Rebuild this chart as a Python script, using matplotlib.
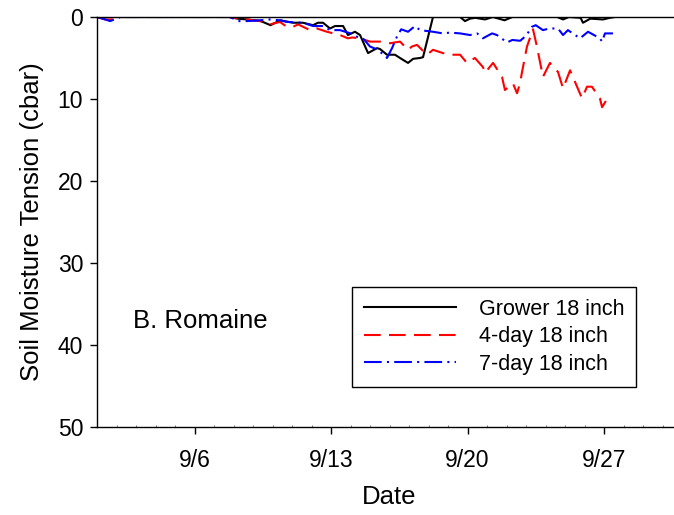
import datetime as dt
import matplotlib
matplotlib.use("Agg")
import matplotlib.pyplot as plt
import matplotlib.dates as mdates

plt.rcParams['font.family'] = ['Liberation Sans', 'DejaVu Sans']

# day of September (fractional) and soil moisture tension (cbar)
grower_day = [1.0, 7.8, 8.2, 8.7, 9.4, 9.9, 10.4, 11.05, 11.56, 12.08, 12.33, 12.59,
              12.95, 13.21, 13.62, 13.87, 14.23, 14.49, 14.9, 15.36, 15.51, 15.87,
              16.28, 16.54, 16.95, 17.21, 17.56, 17.72, 18.23, 19.62, 19.87, 20.13,
              20.4, 20.9, 21.3, 21.9, 22.3, 24.6, 24.9, 25.2, 25.8, 25.92, 26.3,
              26.95, 27.3, 27.56]
grower_cbar = [0, 0, 0.2, 0.3, 0.5, 1.0, 0.4, 0.7, 0.7, 1.0, 0.7, 0.7,
               1.4, 1.1, 1.1, 2.2, 1.8, 2.2, 4.4, 3.8, 3.9, 4.6,
               4.6, 5.0, 5.6, 5.1, 5.0, 4.9, 0, 0, 0.5, 0.2,
               0.1, 0.3, 0, 0.4, 0, 0, 0.3, 0, 0.1, 0.7, 0.2,
               0.3, 0.1, 0]

day4_day = [1.0, 1.4, 1.9, 2.2, 7.8, 8.3, 8.7, 9.36, 9.87, 10.38, 10.74, 11.05,
            11.31, 11.92, 12.28, 12.79, 13.46, 13.87, 14.08, 14.49, 15.0, 15.51,
            16.03, 16.54, 16.95, 17.15, 17.41, 17.92, 18.23, 18.74, 19.1, 19.62,
            19.97, 20.38, 20.79, 20.9, 21.31, 21.77, 21.92, 22.33, 22.54, 22.69,
            22.79, 23.05, 23.36, 23.56, 23.87, 24.23, 24.64, 24.9, 25.26, 25.51,
            25.87, 26.13, 26.38, 26.79, 26.9, 27.21]
day4_cbar = [0, 0.3, 0.3, 0, 0, 0.2, 0.3, 0.5, 0.9, 0.6, 1.2, 1.2,
             0.9, 1.6, 1.4, 1.8, 2.2, 2.6, 2.5, 2.6, 3.0, 3.0,
             3.2, 3.0, 4.0, 3.6, 3.4, 4.6, 4.0, 4.4, 4.6, 4.6,
             5.6, 5.0, 6.1, 6.8, 5.6, 7.3, 8.9, 8.1, 9.3, 8.1,
             6.8, 3.6, 1.5, 3.6, 7.3, 5.6, 6.7, 8.7, 6.5, 7.9,
             9.9, 8.5, 8.5, 9.9, 11.0, 9.8]

day7_day = [1.0, 1.3, 1.67, 2.0, 2.2, 7.8, 8.0, 8.23, 8.69, 9.36, 9.87, 10.38,
            10.74, 11.56, 12.08, 12.59, 12.95, 13.46, 14.0, 14.33, 14.64, 15.0,
            15.41, 15.87, 16.13, 16.38, 16.6, 16.95, 17.31, 17.56, 18.23, 18.74,
            19.1, 19.62, 20.13, 20.49, 20.79, 21.26, 21.51, 22.03, 22.3, 22.7,
            23.0, 23.3, 23.5, 23.87, 24.2, 24.64, 24.9, 25.15, 25.77, 26.18,
            26.79, 26.9, 27.05, 27.46]
day7_cbar = [0, 0.2, 0.5, 0.2, 0, 0, 0.2, 0.5, 0.5, 0.4, 0.3, 0.4,
             0.6, 0.7, 1.1, 1.1, 1.6, 1.6, 2.0, 2.4, 2.6, 3.6,
             4.0, 5.0, 3.8, 2.4, 1.5, 1.8, 1.1, 1.6, 1.8, 2.0,
             1.9, 2.0, 2.2, 2.0, 2.6, 2.0, 2.2, 3.1, 2.8, 2.9,
             2.3, 1.2, 1.0, 1.6, 1.4, 1.4, 2.2, 1.6, 2.6, 1.8,
             2.6, 3.0, 2.0, 2.0]

tick_days = [6, 13, 20, 27]
y_ticks = [0, 10, 20, 30, 40, 50]

start = dt.datetime(2000, 9, 1)


def to_dates(days):
    return [start + dt.timedelta(days=d - 1) for d in days]


fig = plt.figure(figsize=(6.74, 5.15), dpi=100)
ax = fig.add_axes([97 / 674, 1 - 427 / 515, 585 / 674, 410 / 515])

ax.plot(to_dates(grower_day), grower_cbar, color='black', lw=1.5,
        label='Grower 18 inch')
ax.plot(to_dates(day4_day), day4_cbar, color='red', lw=1.5,
        dashes=(8, 4), label='4-day 18 inch')
ax.plot(to_dates(day7_day), day7_cbar, color='blue', lw=1.5,
        dashes=(8.5, 2.5, 1, 2.5), label='7-day 18 inch')

ax.set_xlim(start, start + dt.timedelta(days=30))
ax.set_ylim(50, 0)
ax.set_yticks(y_ticks)
ax.set_xticks(to_dates(tick_days))
ax.xaxis.set_major_formatter(mdates.DateFormatter('%-m/%-d'))
ax.xaxis.set_minor_locator(mdates.DayLocator())
ax.tick_params(axis='both', which='major', length=5, width=1, labelsize=16.5)
ax.tick_params(axis='y', which='major', pad=5)
ax.tick_params(axis='x', which='minor', length=1.5, width=0.6,
               direction='in', color='0.4')
ax.tick_params(axis='x', which='major', pad=11)
ax.spines['right'].set_visible(False)
for s in ax.spines.values():
    s.set_linewidth(1)

ax.set_xlabel('Date', fontsize=18.5, labelpad=9)
ax.set_ylabel('Soil Moisture Tension (cbar)', fontsize=18.5, labelpad=10)

ax.text(0.062, 0.258, 'B. Romaine', transform=ax.transAxes, fontsize=18.5,
        va='center', ha='left')

leg = ax.legend(loc='upper left', bbox_to_anchor=((352 - 97) / 585, (427 - 287) / 410),
                borderaxespad=0, fontsize=15.5, handlelength=4.3,
                handletextpad=1.05, borderpad=0.55, labelspacing=0.3,
                fancybox=False, edgecolor='black', framealpha=1)
leg.get_frame().set_linewidth(1)

fig.savefig('out.png', dpi=100)
